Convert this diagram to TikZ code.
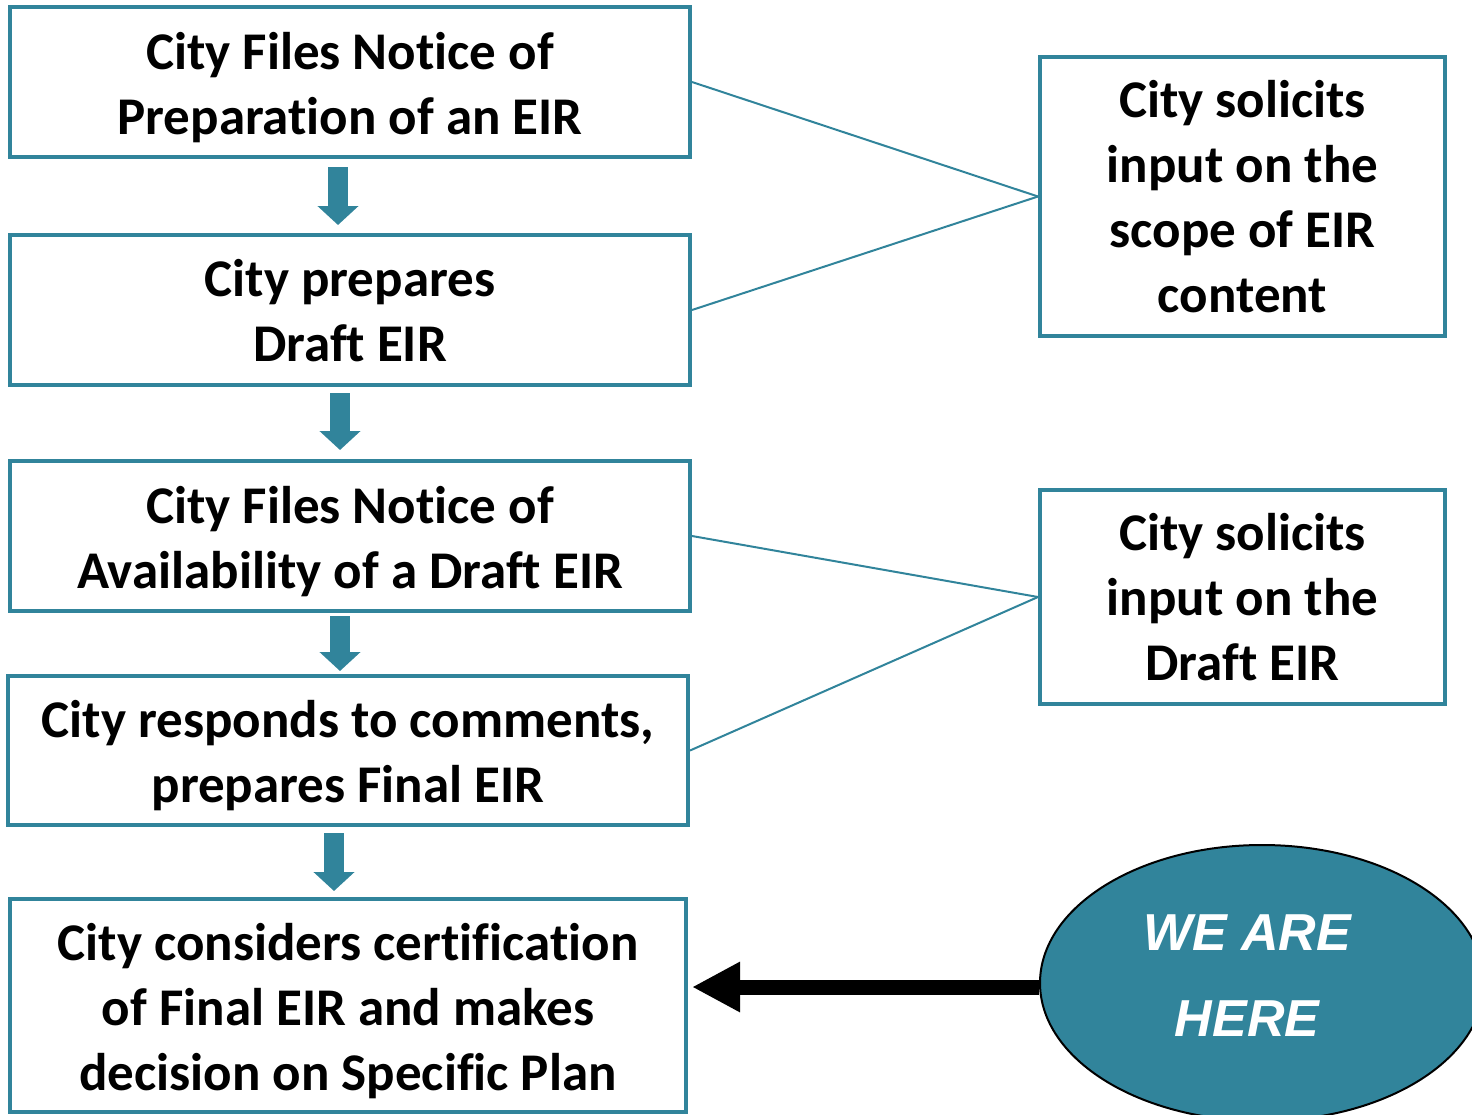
\documentclass[tikz,border=0pt]{standalone}
\usepackage{fontspec}
\setmainfont[Ligatures=NoCommon]{Carlito}
\newfontfamily\herefont{Liberation Sans}
\usetikzlibrary{arrows.meta,shapes.geometric}
\definecolor{eirteal}{HTML}{31849B}
\newcommand{\topgap}[1][48pt]{\rule{0pt}{#1}}

\begin{document}
\begin{tikzpicture}[x=1pt,y=-1pt]
\tikzstyle{every node}+=[inner sep=0pt]
\tikzstyle{stepbox}=[draw=eirteal, line width=4pt, rectangle, align=center,
  font=\bfseries\fontsize{53}{65}\selectfont]
\tikzstyle{downarrow}=[eirteal, line width=20pt, -{Triangle[width=40pt,length=19pt]}]
\tikzstyle{link}=[eirteal, line width=2pt]
\clip (0,0) rectangle (1472,1114);
% steps on the left
\node [stepbox, minimum width=680pt, minimum height=150pt] (notice) at (350,82)
  {\topgap City Files Notice of\\Preparation of an EIR};
\node [stepbox, minimum width=680pt, minimum height=150pt] (draft) at (350,310)
  {\topgap[38pt]City prepares\\Draft EIR};
\node [stepbox, minimum width=680pt, minimum height=150pt] (avail) at (350,536)
  {\topgap City Files Notice of\\Availability of a Draft EIR};
\node [stepbox, minimum width=680pt, minimum height=149pt] (final) at (348,750.5)
  {\topgap City responds to comments,\\prepares Final EIR};
\node [stepbox, minimum width=676pt, minimum height=213pt] (certify) at (348,1005.5)
  {\topgap City considers certification\\of Final EIR and makes\\decision on Specific Plan};
% input boxes on the right
\node [stepbox, minimum width=405pt, minimum height=279pt] (scope) at (1242.5,196.5)
  {City solicits\\input on the\\scope of EIR\\content};
\node [stepbox, minimum width=405pt, minimum height=214pt] (input) at (1242.5,597)
  {City solicits\\input on the\\Draft EIR};
\node [ellipse, draw=black, line width=2pt, fill=eirteal,
  minimum width=444pt, minimum height=276pt] (here) at (1262,983) {};
\node [white, align=center, font=\herefont\bfseries\itshape\fontsize{52}{86}\selectfont]
  (herelabel) at ([shift={(-15,-7)}]here.center) {WE ARE\\HERE};
% flow arrows
\draw [downarrow] ([xshift=-12pt,yshift=-8pt]notice.south) -- ([xshift=-12pt,yshift=8pt]draft.north);
\draw [downarrow] ([xshift=-10pt,yshift=-6pt]draft.south) -- ([xshift=-10pt,yshift=9pt]avail.north);
\draw [downarrow] ([xshift=-10pt,yshift=-3pt]avail.south) -- ([xshift=-8pt,yshift=3pt]final.north);
\draw [downarrow] ([xshift=-14pt,yshift=-6pt]final.south) -- ([xshift=-14pt,yshift=6pt]certify.north);
% links to the input boxes
\draw [link] (notice.east) -- (scope.west);
\draw [link] (draft.east) -- (scope.west);
\draw [link] (avail.east) -- (input.west);
\draw [link] (final.east) -- (input.west);
\draw [black, line width=15pt, -{Triangle[width=47pt,length=48pt]}, shorten >=4pt]
  ([yshift=-4pt]here.west) -- ([yshift=-4pt]here.west -| certify.east);
\end{tikzpicture}
\end{document}
